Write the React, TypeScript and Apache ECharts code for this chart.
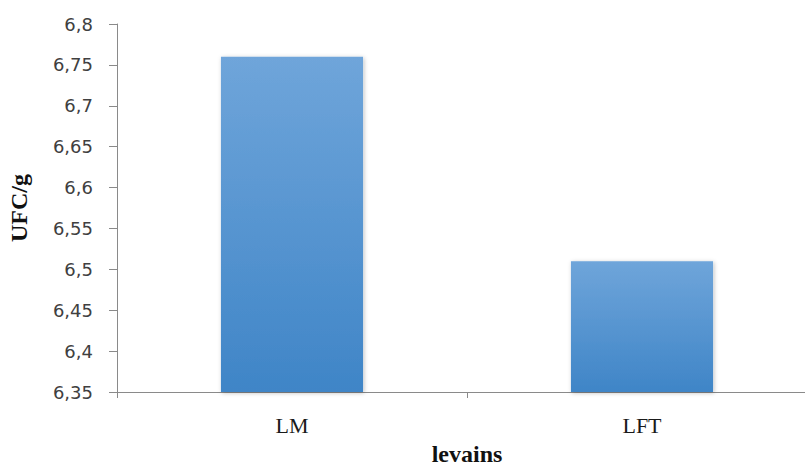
import React, { useEffect, useRef } from "react";
import * as echarts from "echarts";

// Levain counts (log UFC/g)
const categories = ["LM", "LFT"];
const values = [6.76, 6.51];
const yMin = 6.35;
const yMax = 6.8;
const yStep = 0.05;

const formatTick = (v: number) => String(Number(v.toFixed(2))).replace(".", ",");

export default function App() {
  const ref = useRef<HTMLDivElement>(null);

  useEffect(() => {
    if (!ref.current) return;
    const chart = echarts.init(ref.current, undefined, { renderer: "svg" });
    chart.setOption({
      animation: false,
      backgroundColor: "#ffffff",
      grid: {
        left: 117,
        right: -12,
        top: 24,
        bottom: 70,
        containLabel: false,
        outerBoundsMode: "none",
      },
      xAxis: {
        type: "category",
        data: categories,
        name: "levains",
        nameLocation: "middle",
        nameGap: 37,
        nameTextStyle: {
          fontFamily: "Liberation Serif",
          fontWeight: "bold",
          fontSize: 24,
          lineHeight: 26,
          color: "#111111",
        },
        axisLine: { show: true, lineStyle: { color: "#8a8a8a", width: 1 } },
        axisTick: { show: true, length: 6, lineStyle: { color: "#8a8a8a" } },
        axisLabel: {
          margin: 22,
          fontFamily: "Liberation Serif",
          fontSize: 22,
          color: "#1a1a1a",
        },
        splitLine: { show: false },
      },
      yAxis: {
        type: "value",
        min: yMin,
        max: yMax,
        interval: yStep,
        name: "UFC/g",
        nameLocation: "middle",
        nameGap: 86,
        nameRotate: 90,
        nameTextStyle: {
          fontFamily: "Liberation Serif",
          fontWeight: "bold",
          fontSize: 24,
          color: "#111111",
        },
        axisLine: { show: true, lineStyle: { color: "#8a8a8a", width: 1 } },
        axisTick: { show: true, length: 8, lineStyle: { color: "#8a8a8a" } },
        axisLabel: {
          margin: 24,
          fontFamily: "DejaVu Sans",
          fontSize: 18,
          color: "#404040",
          formatter: formatTick,
        },
        splitLine: { show: false },
      },
      series: [
        {
          type: "bar",
          data: values,
          barWidth: "40.6%",
          itemStyle: {
            color: new echarts.graphic.LinearGradient(0, 0, 0, 1, [
              { offset: 0, color: "#6fa5da" },
              { offset: 1, color: "#3f85c7" },
            ]),
            shadowBlur: 4,
            shadowColor: "rgba(0,0,0,0.25)",
            shadowOffsetX: 1,
            shadowOffsetY: 1,
          },
        },
      ],
    });
    return () => chart.dispose();
  }, []);

  return (
    <div
      ref={ref}
      style={{ position: "fixed", left: 0, top: 0, width: 805, height: 462, background: "#fff" }}
    />
  );
}
